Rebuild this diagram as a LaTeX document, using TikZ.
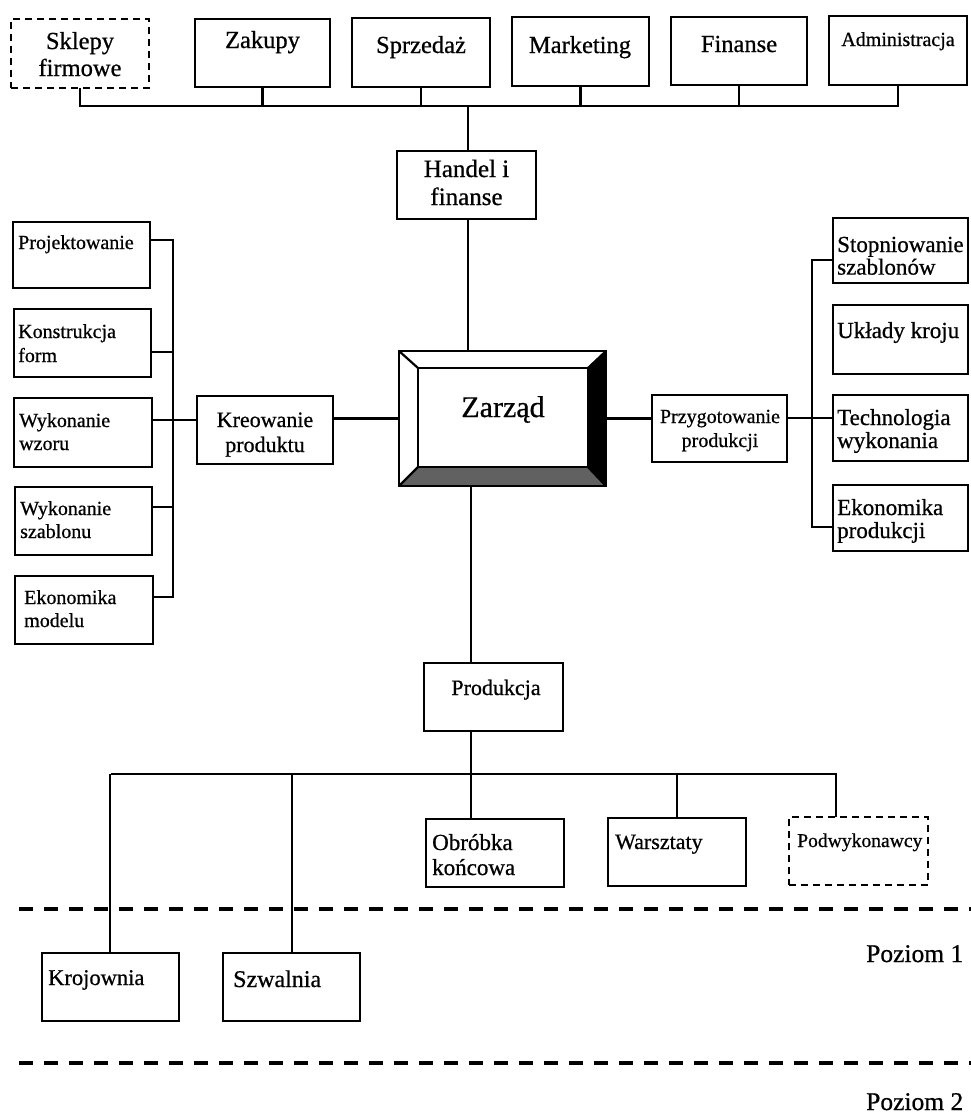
\documentclass[tikz,border=0pt]{standalone}
\usepackage{fontspec}
\setmainfont[FakeBold=0.7]{Liberation Serif}
\newcommand\tl[2]{\begin{tabular}[t]{@{}#1@{}}#2\end{tabular}}
\newcommand\fz[2]{\fontsize{#1}{#2}\selectfont}
\newcommand\mkbox[6][box]{\node[#1, minimum width={#4-#2}, minimum height={#5-#3}] (#6) at (#2,#3) {};}
\begin{document}
\begin{tikzpicture}[x=1pt,y=-1pt,
  box/.style={draw, line width=2.6pt, inner sep=0pt, outer sep=0pt, anchor=north west},
  dbox/.style={box, dash pattern=on 7pt off 5pt},
  conn/.style={line width=2.4pt},
  lvl/.style={line width=4pt, dash pattern=on 14pt off 11pt},
  txt/.style={inner sep=0pt, anchor=base},
  txl/.style={inner sep=0pt, anchor=base west}]
\useasboundingbox (0,0) rectangle (971,1117);

% ---- top row
\mkbox[dbox]{11}{19}{149}{88}{sk}
\mkbox{195}{19}{330}{87}{zak}
\mkbox{352}{18}{490}{87}{spr}
\mkbox{512}{17}{649}{86}{mar}
\mkbox{671}{17}{807}{85}{fin}
\mkbox{829}{16}{967}{85}{adm}
\node[txt] (skt) at (80,49) {\fz{24.5}{27}\tl{c}{Sklepy\\firmowe}};
\node[txt] (zakt) at (262.5,48) {\fz{24.5}{27}Zakupy};
\node[txt] (sprt) at (421,53) {\fz{24.5}{27}Sprzedaż};
\node[txt] (mart) at (580,53) {\fz{24.5}{27}Marketing};
\node[txt] (fint) at (739,52) {\fz{24.5}{27}Finanse};
\node[txt] (admt) at (898,46) {\fz{20}{24}Administracja};

\coordinate (tb) at (468,106);
\draw[conn] (sk.south) |- (tb) -| (adm.south);
\foreach \n in {zak,spr,mar,fin} \draw[conn] (\n.south) -- (\n.south |- tb);

% ---- Handel i finanse
\mkbox{397}{151}{536}{219}{han}
\node[txt] (hant) at (466.5,177) {\fz{25}{28}\tl{c}{Handel i\\finanse}};
\draw[conn] (tb) -- (tb |- han.north);

% ---- Zarzad
\mkbox{399}{351}{606}{486}{zar}
\fill[black] (606,351) -- (606,486) -- (588,467) -- (588,368) -- cycle;
\fill[black!62] (399,486) -- (606,486) -- (588,467) -- (418,467) -- cycle;
\draw[line width=2.6pt, line join=miter] (399,351) rectangle (606,486);
\draw[line width=2.2pt] (418,368) rectangle (588,467);
\draw[line width=2.2pt] (399,351) -- (418,368) (606,351) -- (588,368)
  (399,486) -- (418,467) (606,486) -- (588,467);
\node[txt] (zart) at (503,417) {\fz{30}{34}Zarząd};
\draw[conn] (tb |- han.south) -- (tb |- zar.north);

% ---- left branch
\mkbox{197}{396}{333}{464}{kre}
\node[txt] (kret) at (265,427) {\fz{22}{25}\tl{c}{Kreowanie\\produktu}};
\draw[conn] (zar.west) -- (kre.east |- zar.west);

\mkbox{13}{222}{150}{288}{proj}
\mkbox{14}{309}{151}{377}{kon}
\mkbox{14}{398}{152}{467}{wzo}
\mkbox{15}{487}{152}{555}{sza}
\mkbox{15}{576}{153}{644}{ekm}
\node[txl] (projt) at (18,249) {\fz{20}{24}Projektowanie};
\node[txl] (kont) at (18,338) {\fz{20}{24}\tl{l}{Konstrukcja\\form}};
\node[txl] (wzot) at (19,427) {\fz{20}{23}\tl{l}{Wykonanie\\wzoru}};
\node[txl] (szat) at (20,515) {\fz{20}{23}\tl{l}{Wykonanie\\szablonu}};
\node[txl] (ekmt) at (24,604) {\fz{20}{23}\tl{l}{Ekonomika\\modelu}};

\coordinate (lb1) at (173,240);
\coordinate (lb2) at (173,352);
\coordinate (lb3) at (173,420);
\coordinate (lb4) at (173,507);
\coordinate (lb5) at (173,597);
\draw[conn] (proj.east |- lb1) -- (lb1) -- (lb5) -- (ekm.east |- lb5);
\draw[conn] (kon.east |- lb2) -- (lb2);
\draw[conn] (wzo.east |- lb3) -- (kre.west |- lb3);
\draw[conn] (sza.east |- lb4) -- (lb4);

% ---- right branch
\mkbox{652}{395}{787}{462}{prz}
\node[txt] (przt) at (720,423) {\fz{20}{24}\tl{c}{Przygotowanie\\produkcji}};
\draw[conn] (zar.east) -- (prz.west |- zar.east);

\mkbox{833}{218}{968}{283}{sto}
\mkbox{833}{305}{968}{374}{ukl}
\mkbox{833}{395}{968}{461}{tec}
\mkbox{833}{485}{968}{551}{ekp}
\node[txl] (stot) at (837,252) {\fz{23}{22}\tl{l}{Stopniowanie\\szablonów}};
\node[txl] (uklt) at (837,338) {\fz{23}{23}Układy kroju};
\node[txl] (tect) at (837,425) {\fz{23}{23}\tl{l}{Technologia\\wykonania}};
\node[txl] (ekpt) at (837,515) {\fz{23}{23}\tl{l}{Ekonomika\\produkcji}};

\coordinate (rb1) at (812,260);
\coordinate (rb2) at (812,418);
\coordinate (rb3) at (812,527);
\draw[conn] (sto.west |- rb1) -- (rb1) -- (rb3) -- (ekp.west |- rb3);
\draw[conn] (prz.east |- rb2) -- (tec.west |- rb2);

% ---- bottom
\mkbox{424}{663}{563}{731}{pro}
\node[txt] (prot) at (496,695) {\fz{22}{25}Produkcja};
\coordinate (pl) at (471,774);
\draw[conn] (pl |- zar.south) -- (pl |- pro.north);
\draw[conn] (pl |- pro.south) -- (pl);

\mkbox{42}{953}{179}{1021}{kro}
\mkbox{223}{953}{360}{1021}{szw}
\mkbox{426}{819}{564}{887}{obr}
\mkbox{608}{818}{746}{886}{war}
\mkbox[dbox]{789}{817}{928}{885}{pod}
\node[txl] (krot) at (48,985) {\fz{22.5}{25}Krojownia};
\node[txl] (szwt) at (233,987) {\fz{24}{26}Szwalnia};
\node[txl] (obrt) at (432,850) {\fz{23}{25}\tl{l}{Obróbka\\końcowa}};
\node[txl] (wart) at (615,849) {\fz{22}{25}Warsztaty};
\node[txl] (podt) at (797,847) {\fz{19.6}{23}Podwykonawcy};

\coordinate (bb1) at (110,774);
\coordinate (bb2) at (292,774);
\coordinate (bb4) at (677,774);
\coordinate (bb5) at (836,774);
\draw[conn] (kro.north |- bb1) -- (bb5) -- (bb5 |- pod.north);
\draw[conn] (bb1) -- (bb1 |- kro.north);
\draw[conn] (bb2) -- (bb2 |- szw.north);
\draw[conn] (pl) -- (pl |- obr.north);
\draw[conn] (bb4) -- (bb4 |- war.north);

% ---- levels
\coordinate (l1a) at (19,909);
\coordinate (l1b) at (975,909);
\coordinate (l2a) at (19,1063);
\coordinate (l2b) at (975,1063);
\draw[lvl] (l1a) -- (l1b);
\draw[lvl] (l2a) -- (l2b);
\node[txl] (poz1) at (866,962) {\fz{25.5}{28}Poziom 1};
\node[txl] (poz2) at (866,1110) {\fz{25.5}{28}Poziom 2};
\end{tikzpicture}
\end{document}
